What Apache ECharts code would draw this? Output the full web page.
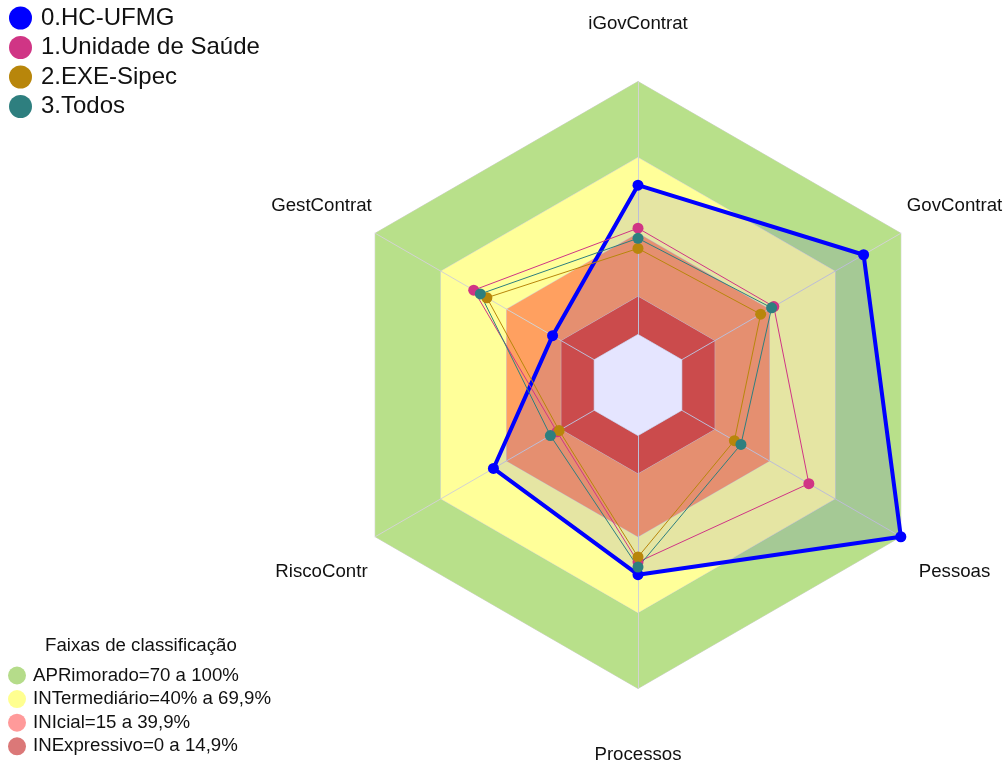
<!DOCTYPE html>
<html>
<head>
<meta charset="utf-8">
<script src="https://cdn.jsdelivr.net/npm/echarts@6/dist/echarts.min.js"></script>
<style>
  html, body { margin: 0; padding: 0; background: #fff; }
  #chart { width: 1005px; height: 760px; }
</style>
</head>
<body>
<div id="chart"></div>
<script>
// indicator order as echarts draws it: top, then counter-clockwise
const indicators = ['iGovContrat', 'GestContrat', 'RiscoContr', 'Processos', 'Pessoas', 'GovContrat'];
const axisMin = -20;
const axisMax = 100;

const seriesNames = ['0.HC-UFMG', '1.Unidade de Saúde', '2.EXE-Sipec', '3.Todos'];
const hcUfmg = [59, 19, 46, 55, 100, 83];
const unidadeSaude = [42, 55, 17, 50, 58, 42];
const exeSipec = [34, 49, 16, 48, 24, 36];
const todos = [38, 52, 20, 52, 27, 41];
const seriesColors = ['#0000FF', '#D03585', '#B8860B', '#2E7F7F'];

const bandNames = ['APRimorado=70 a 100%', 'INTermediário=40% a 69,9%', 'INIcial=15 a 39,9%', 'INExpressivo=0 a 14,9%'];
const bandTops = [100, 70, 40, 15];
const bandFill = ['#B8E08A', '#FFFF99', '#FFA060', '#E35438'];
const bandLegendColors = ['#B5DC8A', '#FFFF90', '#FF9A9A', '#DB7878'];

const font = 'Liberation Sans, Arial, sans-serif';
const chart = echarts.init(document.getElementById('chart'));

const bandSeries = bandTops.map((top, i) => ({
  type: 'radar',
  name: bandNames[i],
  z: -1,
  silent: true,
  symbol: 'none',
  itemStyle: { color: bandLegendColors[i] },
  lineStyle: { color: '#D3D3D3', width: 1 },
  areaStyle: { color: bandFill[i], opacity: 1 },
  data: [{ value: indicators.map(() => top) }]
}));

// white core below zero, covers the axis lines there
const coreSeries = {
  type: 'radar',
  name: 'core',
  z: 1,
  silent: true,
  symbol: 'none',
  lineStyle: { color: '#D3D3D3', width: 1 },
  areaStyle: { color: '#FFFFFF', opacity: 1 },
  data: [{ value: indicators.map(() => 0) }]
};

const dataValues = [hcUfmg, unidadeSaude, exeSipec, todos];
const dataSeries = dataValues.map((vals, i) => ({
  type: 'radar',
  name: seriesNames[i],
  z: 2,
  symbol: 'circle',
  symbolSize: 11,
  itemStyle: { color: seriesColors[i] },
  lineStyle: { color: seriesColors[i], width: i === 0 ? 4 : 1 },
  areaStyle: i === 0 ? { color: 'rgba(0,0,255,0.1)', opacity: 1 } : undefined,
  data: [{ value: vals }]
}));

const option = {
  backgroundColor: '#fff',
  animation: false,
  title: {
    text: 'Faixas de classificação',
    left: 45,
    top: 636,
    padding: 0,
    textStyle: { fontSize: 18.67, fontWeight: 'normal', color: '#111', fontFamily: font }
  },
  legend: [
    {
      data: seriesNames,
      orient: 'vertical',
      left: 9,
      top: 6,
      padding: 0,
      icon: 'circle',
      itemWidth: 31,
      itemHeight: 23,
      itemGap: 5.5,
      selectedMode: false,
      textStyle: { fontSize: 24, color: '#111', fontFamily: font }
    },
    {
      data: bandNames.map((n, i) => ({ name: n, itemStyle: { color: bandLegendColors[i] } })),
      orient: 'vertical',
      left: 8,
      top: 666,
      padding: 0,
      icon: 'circle',
      itemWidth: 22,
      itemHeight: 18,
      itemGap: 4.6,
      selectedMode: false,
      textStyle: { fontSize: 18.67, color: '#111', fontFamily: font }
    }
  ],
  radar: {
    center: [638, 385],
    radius: 303.5,
    startAngle: 90,
    shape: 'polygon',
    z: 0,
    indicator: indicators.map(n => ({ name: n, min: axisMin, max: axisMax })),
    axisNameGap: 62,
    axisName: {
      color: '#111',
      fontSize: 18.67,
      fontFamily: font,
      align: 'center',
      verticalAlign: 'middle',
      formatter: name => '{n|' + name + '}',
      rich: {
        n: { color: '#111', fontSize: 18.67, fontFamily: font, padding: [8, 0, 0, 0] }
      }
    },
    axisLine: { show: true, lineStyle: { color: '#D3D3D3', width: 1 } },
    splitLine: { show: false },
    splitArea: { show: false },
    axisTick: { show: false },
    axisLabel: { show: false }
  },
  series: bandSeries.concat([coreSeries], dataSeries)
};

chart.setOption(option);
</script>
</body>
</html>
